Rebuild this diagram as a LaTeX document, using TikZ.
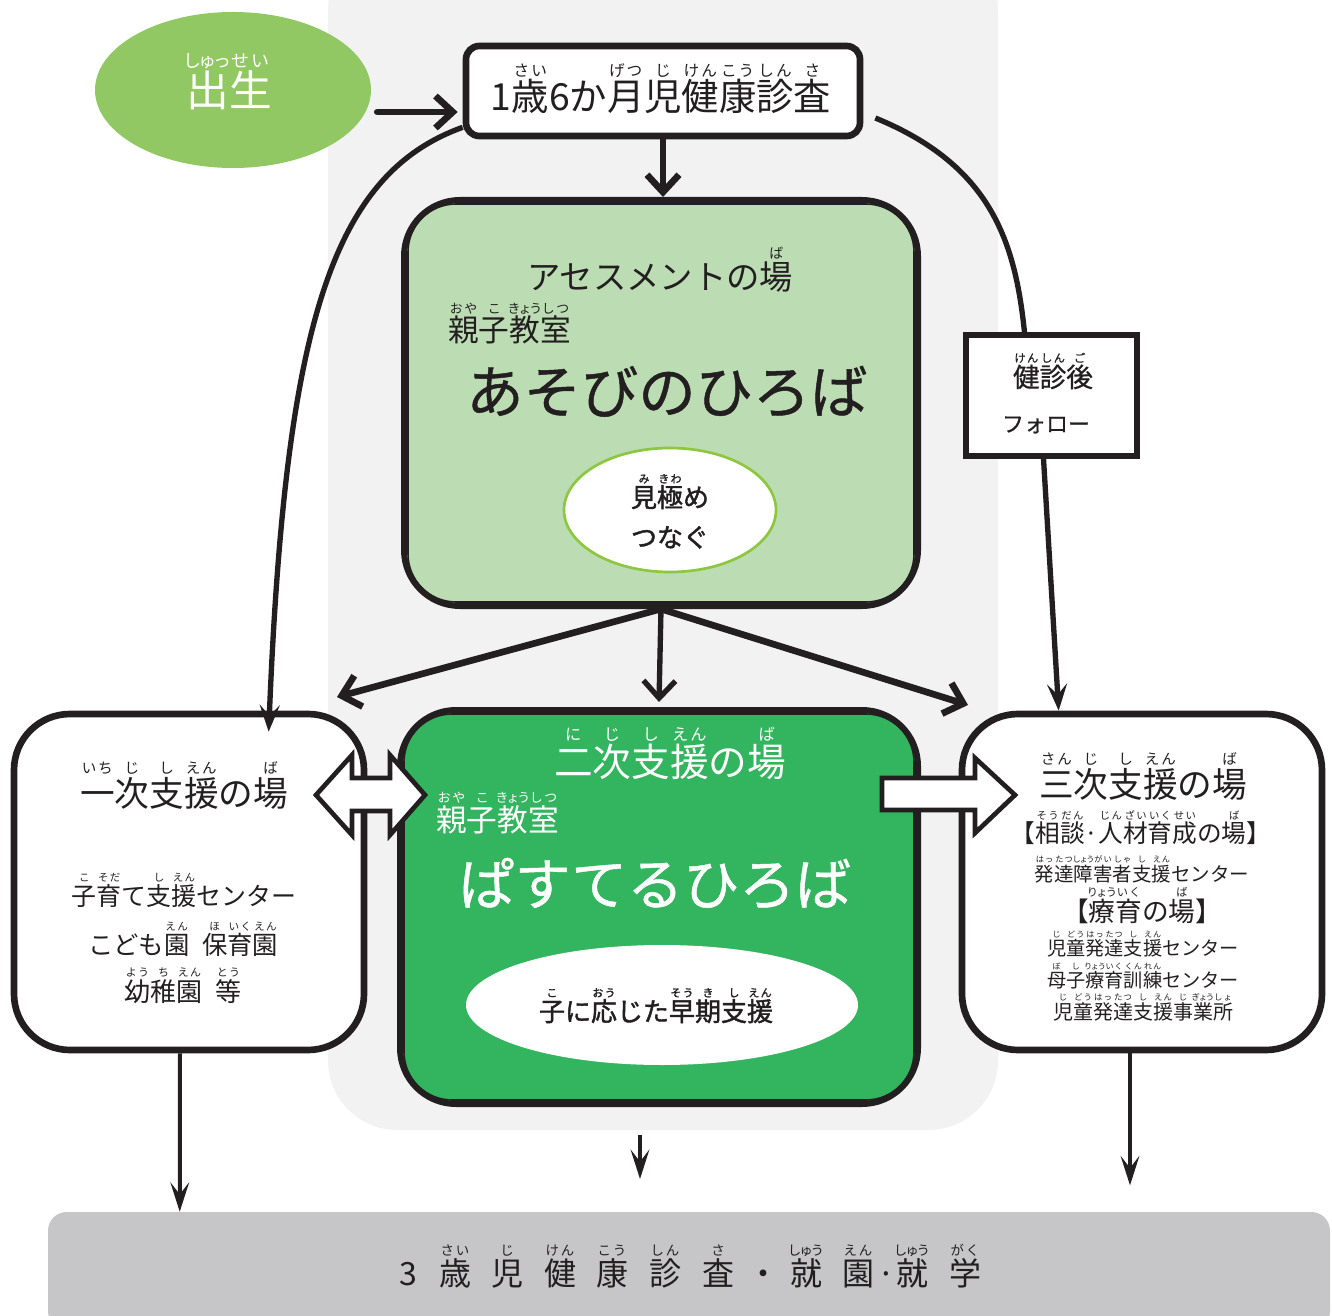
\documentclass[tikz,border=0pt]{standalone}
\usepackage{fontspec}
\setmainfont{Noto Sans CJK JP}
\newfontfamily\jpb[FakeBold=1.6]{Noto Sans CJK JP}
\newfontfamily\jpm[FakeBold=0.8]{Noto Sans CJK JP}
\usetikzlibrary{arrows.meta,shapes.geometric,fit,calc}
\definecolor{ink}{HTML}{231F20}
\definecolor{panelc}{HTML}{F1F2F1}
\definecolor{birthc}{HTML}{92C864}
\definecolor{asc}{HTML}{BCDDB3}
\definecolor{ellc}{HTML}{8DC63F}
\definecolor{nic}{HTML}{33B45E}
\definecolor{barc}{HTML}{C6C6C8}
\newbox\rbbase
\newbox\rbtop
\newdimen\rbsz
\makeatletter
\def\rb@spread#1{\ifx#1\relax\else#1\hss\expandafter\rb@spread\fi}
\newcommand\rb[2]{\leavevmode\setbox\rbbase=\hbox{#1}\rbsz=\f@size pt\relax
 \setbox\rbtop=\hbox to\wd\rbbase{\fontsize{\strip@pt\dimexpr0.42\rbsz\relax}{0}\selectfont\hss\rb@spread#2\relax}%
 \rlap{\raise\dimexpr0.93\rbsz\relax\box\rbtop}\box\rbbase}
\makeatother
\newcommand\fs[1]{\fontsize{#1}{#1}\selectfont}
\begin{document}
\begin{tikzpicture}[x=0.75pt,y=-0.75pt,
  txt/.style={inner sep=0pt, anchor=base, text=ink},
  arr/.style={draw=ink, line width=5pt, line cap=round, -{Straight Barb[length=13pt,width=24pt]}},
  carr/.style={draw=ink, line width=4pt, -{Stealth[length=20pt,width=15pt,inset=8pt]}},
  barr/.style={draw=ink, line width=3pt, -{Stealth[length=22pt,width=14pt,inset=9pt]}},
  cline/.style={draw=ink, line width=4pt},
  hollow/.style={draw=ink, fill=white, line width=3.5pt, line join=miter},
  boxw/.style={inner sep=0pt, draw=ink, line width=5pt, fill=white, rounded corners=42pt},
  boxg/.style={inner sep=0pt, draw=ink, line width=4.5pt, rounded corners=42pt}
]
\useasboundingbox (0,0) rectangle (1332,1316);
% background panel
\fill[panelc, rounded corners=52pt] (328,-60) rectangle (998,1130);

% birth
\node[ellipse, fill=birthc, minimum width=207pt, minimum height=117pt, inner sep=0pt] (birth) at (233,90) {};
\node[txt, text=white] (birtht) at (229,107) {\fs{32}\rb{出}{しゅっ}\rb{生}{せい}};

% 1.5 year checkup
\node[fit={(466,46) (860,136)}, inner sep=0pt, draw=ink, line width=5pt, rounded corners=10pt, fill=white] (hc) {};
\node[txt] (hct) at (661,111) {\fs{28}1\rb{歳}{さい}6か\rb{月}{げつ}\rb{児}{じ}\rb{健}{けん}\rb{康}{こう}\rb{診}{しん}\rb{査}{さ}};

% assessment box
\node[fit={(404,200) (918,606)}, boxg, fill=asc] (as) {};
\draw[ink, line width=1.2pt, rounded corners=36pt] ($(as.south west)+(7,-7)$) rectangle ($(as.north east)+(-7,7)$);
\node[txt] (ast1) at (660,290) {\fs{25}アセスメントの\rb{場}{ば}};
\node[txt, anchor=base west] (ast2) at (448,342) {\fs{23}\rb{親}{おや}\rb{子}{こ}\rb{教}{きょう}\rb{室}{しつ}};
\node[txt] (ast3) at (667,413) {\fs{43}\jpm あそびのひろば};
\node[ellipse, draw=ellc, line width=2pt, fill=white, minimum width=159pt, minimum height=93pt, inner sep=0pt] (asel) at (670,510) {};
\node[txt] (asel1) at (670,507) {\fs{19.5}\jpb\rb{見}{み}\rb{極}{きわ}め};
\node[txt] (asel2) at (670,547) {\fs{19.5}\jpb つなぐ};

% kenshin follow
\node[fit={(966,335) (1137,456)}, inner sep=0pt, draw=ink, line width=4pt, fill=white] (kf) {};
\node[txt] (kf1) at (1053,387) {\fs{20}\jpm\rb{健}{けん}\rb{診}{しん}\rb{後}{ご}};
\node[txt] (kf2) at (1046,432) {\fs{16.5}\jpm フォロー};

% primary
\node[fit={(14,714) (364,1050)}, boxw] (ichi) {};
\node[txt] (ichi1) at (184,806) {\fs{26}\rb{一}{いち}\rb{次}{じ}\rb{支}{し}\rb{援}{えん}の\rb{場}{ば}};
\node[txt] (ichi2) at (184,905) {\fs{18.7}\rb{子}{こ}\rb{育}{そだ}て\rb{支}{し}\rb{援}{えん}センター};
\node[txt] (ichi3) at (183,954) {\fs{19}こども\rb{園}{えん}\hspace{0.5em}\rb{保}{ほ}\rb{育}{いく}\rb{園}{えん}};
\node[txt] (ichi4) at (183,1001) {\fs{19.5}\rb{幼}{よう}\rb{稚}{ち}\rb{園}{えん}\hspace{0.5em}\rb{等}{とう}};

% secondary
\node[fit={(400,710) (918,1104)}, boxg, fill=nic] (ni) {};
\draw[ink, line width=1.2pt, rounded corners=36pt] ($(ni.south west)+(7,-7)$) rectangle ($(ni.north east)+(-7,7)$);
\node[txt, text=white] (ni1) at (670,776) {\fs{29}\rb{二}{に}\rb{次}{じ}\rb{支}{し}\rb{援}{えん}の\rb{場}{ば}};
\node[txt, text=white, anchor=base west] (ni2) at (436,831) {\fs{23}\rb{親}{おや}\rb{子}{こ}\rb{教}{きょう}\rb{室}{しつ}};
\node[txt, text=white] (ni3) at (655,905) {\fs{42}\jpm ぱすてるひろば};
\node[ellipse, fill=white, minimum width=294pt, minimum height=90pt, inner sep=0pt] (niel) at (662,1005) {};
\node[txt] (niel1) at (656,1021) {\fs{19.5}\jpb\rb{子}{こ}に\rb{応}{おう}じた\rb{早}{そう}\rb{期}{き}\rb{支}{し}\rb{援}{えん}};

% tertiary
\node[fit={(962,714) (1322,1050)}, boxw] (san) {};
\node[txt] (san1) at (1143,797) {\fs{26}\rb{三}{さん}\rb{次}{じ}\rb{支}{し}\rb{援}{えん}の\rb{場}{ば}};
\node[txt] (san2) at (1141,842) {\fs{18.5}【\rb{相}{そう}\rb{談}{だん}·\rb{人}{じん}\rb{材}{ざい}\rb{育}{いく}\rb{成}{せい}の\rb{場}{ば}】};
\node[txt] (san3) at (1142,881) {\fs{14.6}\rb{発}{はっ}\rb{達}{たつ}\rb{障}{しょう}\rb{害}{がい}\rb{者}{しゃ}\rb{支}{し}\rb{援}{えん}センター};
\node[txt] (san4) at (1142,921) {\fs{20}【\rb{療}{りょう}\rb{育}{いく}の\rb{場}{ば}】};
\node[txt] (san5) at (1143,955) {\fs{14.4}\rb{児}{じ}\rb{童}{どう}\rb{発}{はっ}\rb{達}{たつ}\rb{支}{し}\rb{援}{えん}センター};
\node[txt] (san6) at (1143,987) {\fs{14.4}\rb{母}{ぼ}\rb{子}{し}\rb{療}{りょう}\rb{育}{いく}\rb{訓}{くん}\rb{練}{れん}センター};
\node[txt] (san7) at (1143,1019) {\fs{15}\rb{児}{じ}\rb{童}{どう}\rb{発}{はっ}\rb{達}{たつ}\rb{支}{し}\rb{援}{えん}\rb{事}{じ}\rb{業}{ぎょう}\rb{所}{しょ}};

% bottom bar
\node[fit={(48,1212) (1330,1330)}, inner sep=0pt, fill=barc, rounded corners=14pt] (bar) {};
\foreach \x/\t [count=\i] in {408/3, 455/{\rb{歳}{さい}}, 507/{\rb{児}{じ}}, 560/{\rb{健}{けん}}, 612/{\rb{康}{こう}}, 665/{\rb{診}{しん}}, 718/{\rb{査}{さ}}, 763/{・}, 806/{\rb{就}{しゅう}}, 858/{\rb{園}{えん}}, 886/{·}, 912/{\rb{就}{しゅう}}, 965/{\rb{学}{がく}}}
  \node[txt] (b\i) at (\x,1285) {\fs{24}\t};

% connectors
\draw[arr] ($(birth.east)+(6,22)$) -- ($(hc.west)+(-5,21)$);
\draw[arr] (hc.south) -- (hc.south |- as.north);
\draw[carr] ($(hc.south west)+(0,-12)$) .. controls (330,175) and (285,330) .. ($(ichi.north west)+(258,21)$);
\draw[cline] ($(hc.east)+(12,27)$) .. controls (990,165) and (1015,240) .. ($(kf.north)+(-27,0)$);
\draw[carr] ($(kf.south)+(-8,0)$) -- ($(san.north west)+(100,0)$);
\draw[arr] (as.south) -- ($(ni.north west)+(-60,-10)$);
\draw[arr, line width=4pt] (as.south) -- ($(ni.north)+(0,-5)$);
\draw[arr] (as.south) -- ($(ni.north east)+(47,-2)$);

% hollow arrows
\draw[hollow] (316,795) -- (352,755) -- (352,778) -- (390,778) -- (390,755) -- (425,795) -- (390,835) -- (390,811) -- (352,811) -- (352,835) -- cycle;
\draw[hollow] (882,778) -- (975,778) -- (975,758) -- (1015,795) -- (975,833) -- (975,810) -- (882,810) -- cycle;

% bottom arrows
\draw[barr] ($(ichi.south)+(-9,0)$) -- ($(bar.north west)+(132,0)$);
\draw[barr] ($(ni.south)+(-19,28)$) -- ($(ni.south)+(-19,72)$);
\draw[barr] ($(san.south)+(-12,0)$) -- ($(san.south)+(-12,132)$);
\end{tikzpicture}
\end{document}
